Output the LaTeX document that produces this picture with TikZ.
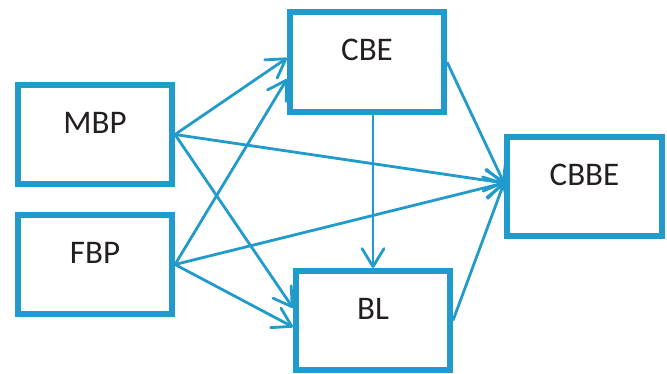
\documentclass[tikz,border=0pt]{standalone}
\usepackage{fontspec}
\setmainfont{Carlito}
\usetikzlibrary{arrows.meta}
\definecolor{cblue}{RGB}{33,154,204}
\definecolor{ctext}{RGB}{35,31,32}
\tikzset{
  box/.style={draw=cblue, line width=6pt, rectangle, minimum width=154pt, minimum height=99pt, inner sep=0pt},
  lbl/.style={font=\fontsize{33pt}{36pt}\selectfont, text=ctext, anchor=center, yshift=12pt},
  conn/.style={draw=cblue, line width=2.8pt, -{Straight Barb[length=18pt,width=22pt,line width=2.8pt,round]}}
}
\begin{document}
\begin{tikzpicture}[x=1pt,y=-1pt]
\useasboundingbox (0,0) rectangle (667,374);
\node[box, label={[lbl]center:MBP}] (MBP) at (95,134.5) {};
\node[box, label={[lbl]center:FBP}] (FBP) at (95,264.5) {};
\node[box, minimum height=100pt, label={[lbl]center:CBE}] (CBE) at (367,62) {};
\node[box, label={[lbl]center:BL}] (BL) at (373,320.5) {};
\node[box, minimum width=155pt, label={[lbl]center:CBBE}] (CBBE) at (584.5,186.5) {};
\draw[conn] (MBP.east) -- ([yshift=4pt]CBE.west);
\draw[conn] (FBP.east) -- ([yshift=-17pt]CBE.west);
\draw[conn] (MBP.east) -- ([yshift=12.5pt]BL.west);
\draw[conn] (FBP.east) -- ([yshift=-6.5pt]BL.west);
\draw[conn] (MBP.east) -- ([yshift=3.5pt]CBBE.west);
\draw[conn] (FBP.east) -- ([yshift=3.5pt]CBBE.west);
\draw[conn] (CBE.east) -- ([yshift=3.5pt]CBBE.west);
\draw[conn] (BL.east) -- ([yshift=3.5pt]CBBE.west);
\draw[conn] (BL.north |- CBE.south) -- (BL.north);
\end{tikzpicture}
\end{document}
